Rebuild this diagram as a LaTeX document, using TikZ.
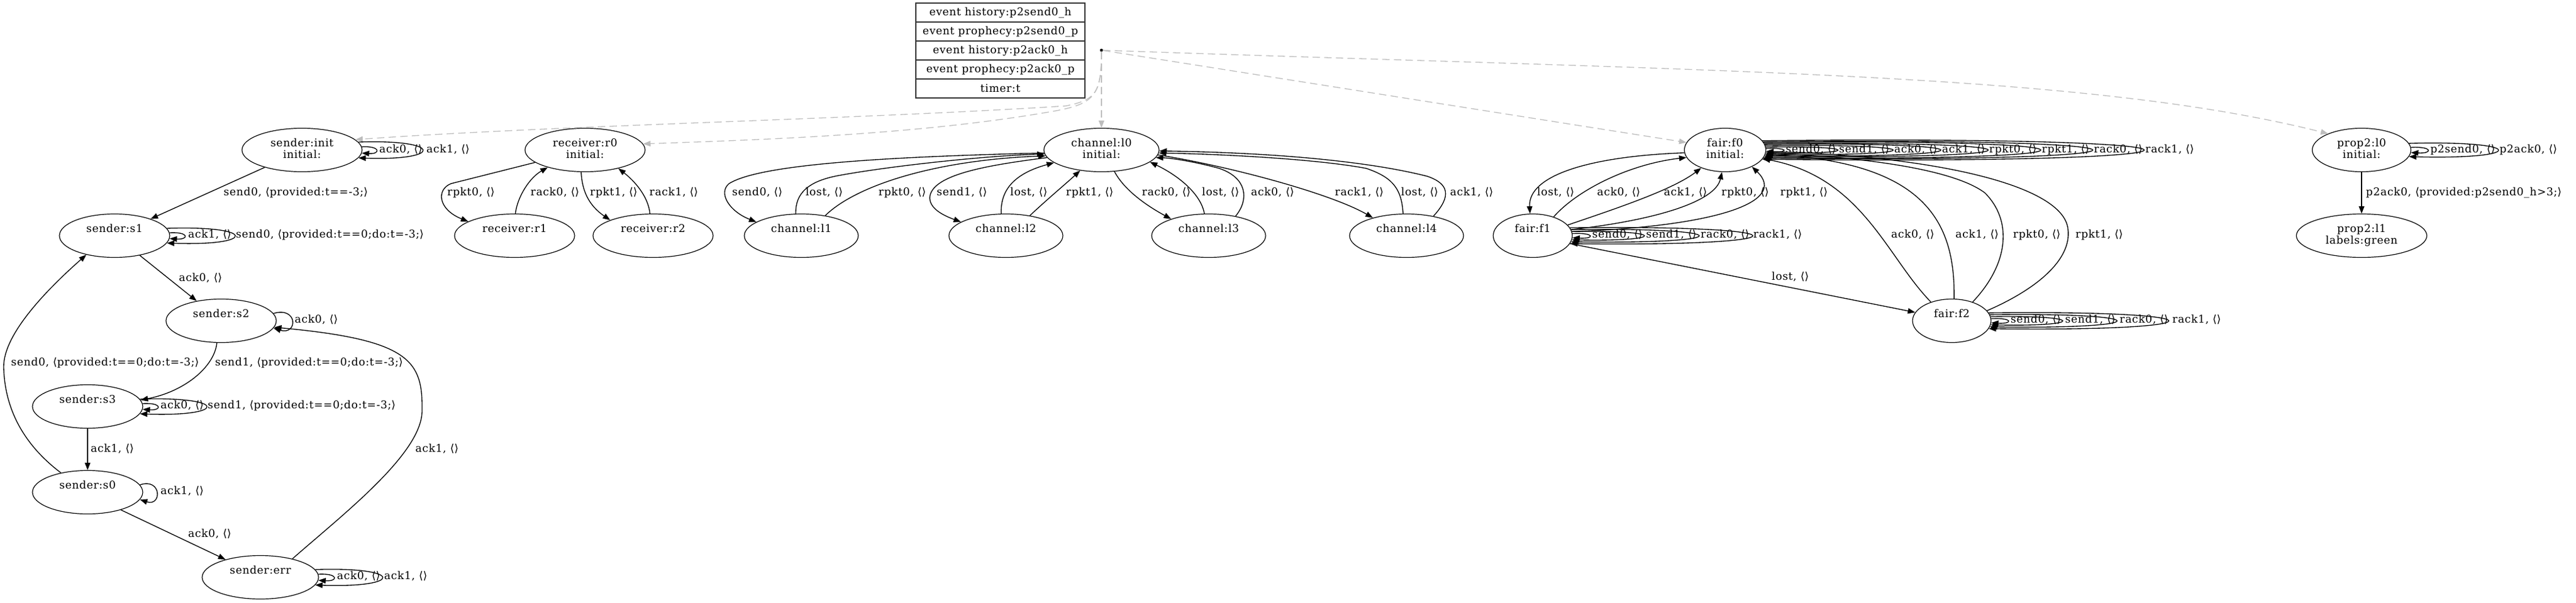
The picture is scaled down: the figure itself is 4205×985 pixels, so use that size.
\documentclass[tikz,border=0pt]{standalone}
\usepackage{fontspec}
\setmainfont[LetterSpace=4]{DejaVu Serif}
\newfontfamily\brfont{DejaVu Sans}
\usetikzlibrary{shapes.geometric,arrows.meta}
\newcommand\EE{{\brfont ⟨⟩}}
\newcommand\myL{{\brfont ⟨}}
\newcommand\myR{{\brfont ⟩}}
\newcommand\tl[2]{\strut #1\\\strut #2}
\newcommand\sloop[4]{\draw[edge] (#1.#2) .. controls +(#3,-#4) and +(#3,#4) .. (#1.-#2);}
\definecolor{dgray}{HTML}{BDBDBD}
\begin{document}
\begin{tikzpicture}[x=1pt,y=-1pt,
  every node/.style={font=\fontsize{17.5}{19}\selectfont},
  st/.style={draw, ellipse, inner sep=0pt, minimum height=71pt, align=center, line width=1.2pt},
  lab/.style={anchor=west, inner sep=0pt, text height=13pt, text depth=4.5pt},
  edge/.style={line width=1.35pt, -{Triangle[length=12pt,width=9pt]}},
  dedge/.style={draw=dgray, line width=1.3pt, dash pattern=on 12pt off 7pt, -{Triangle[length=12pt,width=9pt]}},
  row/.style={draw=black!80, minimum width=276pt, minimum height=31pt, inner sep=0pt, line width=1.2pt}]
\fill[white] (0,0) rectangle (4205,985);
\useasboundingbox (0,0) rectangle (4205,985);

% table
\node[row] (t1) at (1633,20.5) {event history:p2send0\_h};
\node[row] (t2) at (1633,51.5) {event prophecy:p2send0\_p};
\node[row] (t3) at (1633,82.5) {event history:p2ack0\_h};
\node[row] (t4) at (1633,113.5) {event prophecy:p2ack0\_p};
\node[row] (t5) at (1633,144.5) {timer:t};
\node[circle, fill, inner sep=0pt, minimum size=5pt] (dot) at (1798,82) {};

% sender
\node[st, minimum width=196pt] (ini) at (493,245) {\tl{sender:init}{initial:}};
\node[st, minimum width=180pt] (s1) at (187,385) {\tl{sender:s1}{}};
\node[st, minimum width=180pt] (s2) at (361,524) {\tl{sender:s2}{}};
\node[st, minimum width=180pt] (s3) at (143,664) {\tl{sender:s3}{}};
\node[st, minimum width=180pt] (s0) at (143,804) {\tl{sender:s0}{}};
\node[st, minimum width=190pt] (err) at (425,943) {\tl{sender:err}{}};
% receiver
\node[st, minimum width=196pt] (r0) at (955,245) {\tl{receiver:r0}{initial:}};
\node[st, minimum width=196pt] (r1) at (840,385) {\tl{receiver:r1}{}};
\node[st, minimum width=196pt] (r2) at (1066,385) {\tl{receiver:r2}{}};
% channel
\node[st, minimum width=188pt] (c0) at (1798,245) {\tl{channel:l0}{initial:}};
\node[st, minimum width=186pt] (c1) at (1308,385) {\tl{channel:l1}{}};
\node[st, minimum width=186pt] (c2) at (1642,385) {\tl{channel:l2}{}};
\node[st, minimum width=186pt] (c3) at (1973,385) {\tl{channel:l3}{}};
\node[st, minimum width=186pt] (c4) at (2296,385) {\tl{channel:l4}{}};
% fair
\node[st, minimum width=133pt] (f0) at (2816,245) {\tl{fair:f0}{initial:}};
\node[st, minimum width=129pt] (f1) at (2502,385) {\tl{fair:f1}{}};
\node[st, minimum width=128pt] (f2) at (3186,524) {\tl{fair:f2}{}};
% prop2
\node[st, minimum width=161pt] (p0) at (3855,245) {\tl{prop2:l0}{initial:}};
\node[st, minimum width=213pt] (p1) at (3855,385) {\tl{prop2:l1}{labels:green}};

% dashed edges
\draw[dedge] (dot) -- (c0.north);
\draw[dedge] (dot) .. controls (1798,150) and (1790,163) .. (1740,173) .. controls (1400,195) and (900,205) .. (ini.11);
\draw[dedge] (dot) .. controls (1798,158) and (1785,170) .. (1718,182) .. controls (1500,220) and (1250,228) .. (r0.6);
\draw[dedge] (dot) -- (f0.169);
\draw[dedge] (dot) .. controls (2798,117) and (3397,117) .. (p0.154);

% sender edges
\draw[edge] (ini.205) -- (s1.25);
\node[lab] (ls1) at (365,315) {send0, \myL provided:t==-3;\myR};
\draw[edge] (s1.-38) -- (s2.141);
\node[lab] (ls2) at (292,455) {ack0, \EE};
\draw[edge] (s2.-101) .. controls (350,600) and (300,640) .. (s3.7);
\node[lab] (ls3) at (351,593) {send1, \myL provided:t==0;do:t=-3;\myR};
\draw[edge] (s3.south) -- (s0.north);
\node[lab] (ls4) at (148,734) {ack1, \EE};
\draw[edge] (s0.144) .. controls (50,735) and (8,680) .. (6,600) .. controls (5,545) and (80,470) .. (s1.214);
\node[lab] (ls5) at (18,593) {send0, \myL provided:t==0;do:t=-3;\myR};
\draw[edge] (s0.-28) -- (err.153);
\node[lab] (ls6) at (307,873) {ack0, \EE};
\draw[edge] (err.30) .. controls (560,840) and (690,740) .. (689,670) .. controls (690,590) and (670,555) .. (s2.-7);
\node[lab] (ls7) at (678,734) {ack1, \EE};
\sloop{ini}{3}{31}{2}
\sloop{ini}{8}{139}{5}
\node[lab] (li1) at (619,245) {ack0, \EE};
\node[lab] (li2) at (696,245) {ack1, \EE};
\sloop{s1}{3}{32}{2}
\sloop{s1}{8.5}{147}{5}
\node[lab] (l11) at (307,384) {ack1, \EE};
\node[lab] (l12) at (385,384) {send0, \myL provided:t==0;do:t=-3;\myR};
\sloop{s2}{8.5}{40}{12}
\node[lab] (l21) at (481,523) {ack0, \EE};
\sloop{s3}{3}{32}{2}
\sloop{s3}{8.5}{144}{5}
\node[lab] (l31) at (262,663) {ack0, \EE};
\node[lab] (l32) at (339,663) {send1, \myL provided:t==0;do:t=-3;\myR};
\sloop{s0}{8.5}{36}{12}
\node[lab] (l01) at (262,803) {ack1, \EE};
\sloop{err}{3}{33}{2}
\sloop{err}{8.5}{145}{5}
\node[lab] (le1) at (550,942) {ack0, \EE};
\node[lab] (le2) at (627,942) {ack1, \EE};

% receiver edges
\draw[edge] (r0.194) -- (736,300) .. controls (712,310) and (715,342) .. (r1.163);
\node[lab] (lr1) at (730,315) {rpkt0, \EE};
\draw[edge] (r1.88) .. controls (845,320) and (865,290) .. (r0.205);
\node[lab] (lr2) at (866,315) {rack0, \EE};
\draw[edge] (r0.260) .. controls (950,310) and (960,335) .. (r2.160);
\node[lab] (lr3) at (963,315) {rpkt1, \EE};
\draw[edge] (r2.98) .. controls (1058,320) and (1035,295) .. (r0.-29);
\node[lab] (lr4) at (1060,315) {rack1, \EE};

% channel edges
\draw[edge] (c0.183) .. controls (1450,256) and (1240,268) .. (1190,300) .. controls (1172,315) and (1190,345) .. (c1.163);
\node[lab] (lc1) at (1195,315) {send0, \EE};
\draw[edge] (c1.104) .. controls (1298,315) and (1320,295) .. (1373,286) .. controls (1450,272) and (1600,255) .. (c0.184);
\node[lab] (lc2) at (1315,315) {lost, \EE};
\draw[edge] (c1.40) .. controls (1395,305) and (1520,262) .. (c0.186);
\node[lab] (lc3) at (1434,315) {rpkt0, \EE};
\draw[edge] (c0.188) .. controls (1610,270) and (1525,285) .. (1518,320) .. controls (1515,340) and (1540,352) .. (c2.163);
\node[lab] (lc4) at (1529,315) {send1, \EE};
\draw[edge] (c2.102) .. controls (1633,315) and (1650,285) .. (c0.195);
\node[lab] (lc5) at (1649,315) {lost, \EE};
\draw[edge] (c2.40) .. controls (1710,325) and (1740,300) .. (c0.224);
\node[lab] (lc6) at (1740,315) {rpkt1, \EE};
\draw[edge] (c0.-59) .. controls (1835,310) and (1870,335) .. (c3.156);
\node[lab] (lc7) at (1864,315) {rack0, \EE};
\draw[edge] (c3.101) .. controls (1960,315) and (1920,285) .. (c0.-14);
\node[lab] (lc8) at (1962,315) {lost, \EE};
\draw[edge] (c3.36) .. controls (2040,325) and (2035,290) .. (1990,275) .. controls (1950,264) and (1910,258) .. (c0.-8);
\node[lab] (lc9) at (2042,315) {ack0, \EE};
\draw[edge] (c0.-5) .. controls (2000,270) and (2170,315) .. (c4.152);
\node[lab] (lc10) at (2179,315) {rack1, \EE};
\draw[edge] (c4.99) .. controls (2288,310) and (2275,290) .. (2230,275) .. controls (2150,260) and (2000,252) .. (c0.-3);
\node[lab] (lc11) at (2287,315) {lost, \EE};
\draw[edge] (c4.36) .. controls (2370,320) and (2365,300) .. (2330,288) .. controls (2200,255) and (2000,248) .. (c0.-1);
\node[lab] (lc12) at (2367,315) {ack1, \EE};

% fair edges
\draw[edge] (f0.184) .. controls (2600,255) and (2494,285) .. (f1.97);
\node[lab] (lf1) at (2509,315) {lost, \EE};
\draw[edge] (f1.42) .. controls (2575,310) and (2660,268) .. (f0.191);
\node[lab] (lf2) at (2607,315) {ack0, \EE};
\draw[edge] (f1.17) .. controls (2640,340) and (2730,310) .. (f0.217);
\node[lab] (lf3) at (2716,315) {ack1, \EE};
\draw[edge] (f1.9) .. controls (2700,360) and (2800,330) .. (f0.262);
\node[lab] (lf4) at (2810,315) {rpkt0, \EE};
\draw[edge] (f1.6) .. controls (2800,370) and (2920,330) .. (f0.-32.5);
\node[lab] (lf5) at (2906,315) {rpkt1, \EE};
\draw[edge] (f1.-12) -- (f2.167);
\node[lab] (lf6) at (2892,453) {lost, \EE};
\draw[edge] (f2.138.5) .. controls (3080,420) and (3040,290) .. (f0.-13);
\node[lab] (lf7) at (3087,384) {ack0, \EE};
\draw[edge] (f2.84) .. controls (3192,360) and (3140,265) .. (f0.-6);
\node[lab] (lf8) at (3192,384) {ack1, \EE};
\draw[edge] (f2.42) .. controls (3280,430) and (3285,360) .. (3240,315) .. controls (3180,270) and (3000,255) .. (f0.-4);
\node[lab] (lf9) at (3286,384) {rpkt0, \EE};
\draw[edge] (f2.16) .. controls (3330,470) and (3385,420) .. (3375,370) .. controls (3360,300) and (3150,255) .. (f0.-2);
\node[lab] (lf10) at (3388,384) {rpkt1, \EE};
\sloop{f0}{2.5}{37}{2}
\sloop{f0}{4.5}{155}{3}
\sloop{f0}{6.5}{276}{4}
\sloop{f0}{8}{381}{5}
\sloop{f0}{9.5}{485}{6}
\sloop{f0}{11}{601}{7}
\sloop{f0}{12.5}{715}{8}
\sloop{f0}{14.5}{829}{9}
\node[lab] (lg1) at (2915,245) {send0, \EE};
\node[lab] (lg2) at (3002,245) {send1, \EE};
\node[lab] (lg3) at (3092,245) {ack0, \EE};
\node[lab] (lg4) at (3170,245) {ack1, \EE};
\node[lab] (lg5) at (3247,245) {rpkt0, \EE};
\node[lab] (lg6) at (3333,245) {rpkt1, \EE};
\node[lab] (lg7) at (3418,245) {rack0, \EE};
\node[lab] (lg8) at (3502,245) {rack1, \EE};
\sloop{f1}{3}{37}{2}
\sloop{f1}{6}{156}{3}
\sloop{f1}{9}{277}{4}
\sloop{f1}{12}{396}{5}
\node[lab] (lh1) at (2599,384) {send0, \EE};
\node[lab] (lh2) at (2687,384) {send1, \EE};
\node[lab] (lh3) at (2776,384) {rack0, \EE};
\node[lab] (lh4) at (2862,384) {rack1, \EE};
\sloop{f2}{3}{36}{2}
\sloop{f2}{6}{155}{3}
\sloop{f2}{9}{275}{4}
\sloop{f2}{12}{390}{5}
\node[lab] (lk1) at (3282,523) {send0, \EE};
\node[lab] (lk2) at (3371,523) {send1, \EE};
\node[lab] (lk3) at (3460,523) {rack0, \EE};
\node[lab] (lk4) at (3546,523) {rack1, \EE};

% prop2 edges
\draw[edge] (p0.south) -- (p1.north);
\node[lab] (lp1) at (3862,315) {p2ack0, \myL provided:p2send0\_h>3;\myR};
\sloop{p0}{3}{36}{2}
\sloop{p0}{8.5}{193}{5}
\node[lab] (lp2) at (3967,245) {p2send0, \EE};
\node[lab] (lp3) at (4080,245) {p2ack0, \EE};
\end{tikzpicture}
\end{document}
